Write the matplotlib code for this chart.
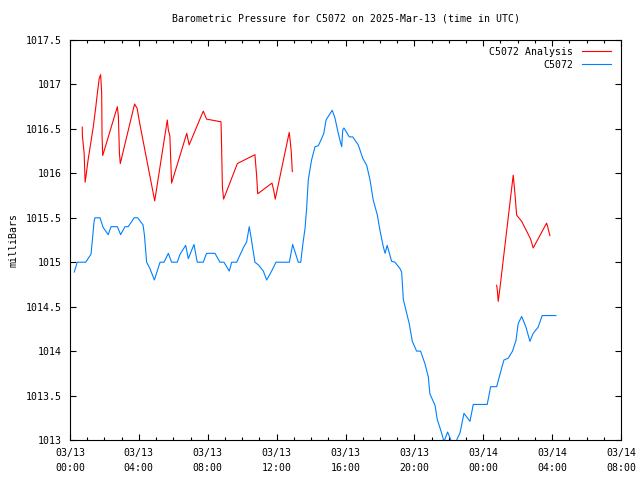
import numpy as np
import pandas as pd
import matplotlib
matplotlib.use("Agg")
import matplotlib.pyplot as plt
import matplotlib.dates as mdates

# hours after 2025-03-13 00:00 UTC, pressure in mb
analysis_hours = [0.71, 0.72, 0.82, 0.88, 0.95, 1.05, 1.35, 1.5, 1.6, 1.7, 1.78, 1.84, 1.86, 1.9,
                  2.75, 2.81, 2.87, 2.92, 3.75, 3.9, 4.05, 4.92, 5.65, 5.71, 5.8, 5.9,
                  6.78, 6.92, 7.74, 7.93, 8.77, 8.79, 8.85, 8.92, 9.72, 10.74, 10.84, 10.9,
                  11.73, 11.83, 11.92, 12.73, 12.77, 12.85, 12.91,
                  np.nan,
                  24.78, 24.82, 24.87, 24.97, 25.74, 25.78, 25.84, 25.94, 26.23, 26.52, 26.75, 26.9,
                  27.68, 27.74, 27.87]
analysis_mb = [1016.52, 1016.42, 1016.23, 1015.9, 1016.0, 1016.15, 1016.52, 1016.75, 1016.92, 1017.07, 1017.11, 1016.9, 1016.43, 1016.2,
               1016.75, 1016.64, 1016.23, 1016.11, 1016.78, 1016.73, 1016.56, 1015.69, 1016.6, 1016.49, 1016.42, 1015.89,
               1016.45, 1016.32, 1016.70, 1016.61, 1016.58, 1016.43, 1015.85, 1015.71, 1016.11, 1016.21, 1015.97, 1015.77,
               1015.89, 1015.81, 1015.71, 1016.46, 1016.40, 1016.24, 1016.02,
               np.nan,
               1014.74, 1014.68, 1014.56, 1014.71, 1015.98, 1015.90, 1015.77, 1015.53, 1015.46, 1015.35, 1015.26, 1015.16,
               1015.44, 1015.40, 1015.30]

station_hours = [0.25, 0.42, 0.91, 1.22, 1.26, 1.4, 1.45, 1.74, 1.93, 2.22, 2.38, 2.75, 2.94, 3.19, 3.38,
                 3.73, 3.93, 4.24, 4.32, 4.45, 4.64, 4.9, 5.23, 5.46, 5.71, 5.9, 6.23, 6.39, 6.72, 6.87,
                 7.2, 7.39, 7.74, 7.93, 8.42, 8.71, 8.94, 9.25, 9.39, 9.68, 10.06, 10.26, 10.41, 10.49,
                 10.74, 10.94, 11.23, 11.42, 11.71, 11.96, 12.74, 12.93, 13.26, 13.4, 13.52, 13.65, 13.74,
                 13.84, 14.03, 14.23, 14.42, 14.61, 14.74, 14.87, 15.1, 15.23, 15.39, 15.58, 15.72, 15.78,
                 15.84, 15.91, 16.22, 16.42, 16.74, 17.0, 17.23, 17.42, 17.61, 17.85, 18.0, 18.2, 18.3,
                 18.42, 18.55, 18.68, 18.87, 19.16, 19.26, 19.36, 19.51, 19.7, 19.88, 20.13, 20.36, 20.61,
                 20.81, 20.9, 21.2, 21.33, 21.58, 21.72, 21.93, 22.16, 22.41, 22.65, 22.88, 23.23, 23.42,
                 24.23, 24.43, 24.78, 24.93, 25.2, 25.45, 25.7, 25.9, 26.03, 26.23, 26.48, 26.71, 26.9,
                 27.19, 27.42, 28.22]
station_mb = [1014.89, 1015.0, 1015.0, 1015.09, 1015.17, 1015.46, 1015.5, 1015.5, 1015.39, 1015.31, 1015.4, 1015.4, 1015.31, 1015.4, 1015.4,
              1015.5, 1015.5, 1015.42, 1015.31, 1015.0, 1014.93, 1014.8, 1015.0, 1015.0, 1015.1, 1015.0, 1015.0, 1015.09, 1015.19, 1015.04,
              1015.2, 1015.0, 1015.0, 1015.1, 1015.1, 1015.0, 1015.0, 1014.9, 1015.0, 1015.0, 1015.16, 1015.23, 1015.4, 1015.31,
              1015.0, 1014.97, 1014.9, 1014.8, 1014.9, 1015.0, 1015.0, 1015.2, 1015.0, 1015.0, 1015.2, 1015.38, 1015.6,
              1015.93, 1016.15, 1016.3, 1016.31, 1016.39, 1016.45, 1016.6, 1016.67, 1016.71, 1016.62, 1016.45, 1016.34, 1016.3,
              1016.49, 1016.51, 1016.41, 1016.41, 1016.32, 1016.17, 1016.09, 1015.93, 1015.7, 1015.53, 1015.36, 1015.17, 1015.1,
              1015.19, 1015.1, 1015.01, 1015.0, 1014.93, 1014.89, 1014.58, 1014.46, 1014.31, 1014.11, 1014.0, 1014.0, 1013.86,
              1013.71, 1013.52, 1013.39, 1013.23, 1013.08, 1012.98, 1013.09, 1012.98, 1012.98, 1013.08, 1013.3, 1013.21, 1013.4,
              1013.4, 1013.6, 1013.6, 1013.71, 1013.9, 1013.92, 1014.0, 1014.12, 1014.31, 1014.39, 1014.27, 1014.11, 1014.2,
              1014.27, 1014.4, 1014.4]

y_ticks = [1013, 1013.5, 1014, 1014.5, 1015, 1015.5, 1016, 1016.5, 1017, 1017.5]
x_tick_hours = [0, 4, 8, 12, 16, 20, 24, 28, 32]

start = pd.Timestamp("2025-03-13 00:00")
t_analysis = start + pd.to_timedelta(analysis_hours, unit="h")
t_station = start + pd.to_timedelta(station_hours, unit="h")
x_ticks = start + pd.to_timedelta(x_tick_hours, unit="h")

plt.rcParams['font.family'] = ['DejaVu Sans Mono']
plt.rcParams['font.size'] = 7.1

fig = plt.figure(figsize=(6.4, 4.8), dpi=100)
ax = fig.add_axes([70/640, 40/480, 551/640, 400/480])

ax.plot(t_analysis, analysis_mb, color='#ff0000', lw=0.8, label='C5072 Analysis')
ax.plot(t_station, station_mb, color='#0080ff', lw=0.8, label='C5072')

ax.set_xlim(x_ticks[0], x_ticks[-1])
ax.set_ylim(1013, 1017.5)
ax.set_yticks(y_ticks)
ax.set_yticklabels(['%g' % v for v in y_ticks])
ax.set_xticks(x_ticks)
ax.set_xticklabels([t.strftime('%m/%d\n%H:%M') for t in x_ticks], linespacing=1.6)
ax.xaxis.set_minor_locator(mdates.HourLocator())
ax.tick_params(which='both', direction='in', top=True, right=True, width=0.8)
ax.tick_params(which='major', length=4.5, pad=6)
ax.tick_params(which='minor', length=2.5)
for s in ax.spines.values():
    s.set_linewidth(0.8)

ax.set_ylabel('milliBars', labelpad=5)
ax.set_title('Barometric Pressure for C5072 on 2025-Mar-13 (time in UTC)', fontsize=7.1, pad=13)
ax.legend(loc='upper right', frameon=False, markerfirst=False, handlelength=3,
          borderaxespad=0.3, labelspacing=0.3, handletextpad=0.9,
          bbox_to_anchor=(0.995, 1.0))

fig.savefig('out.png', dpi=100)
